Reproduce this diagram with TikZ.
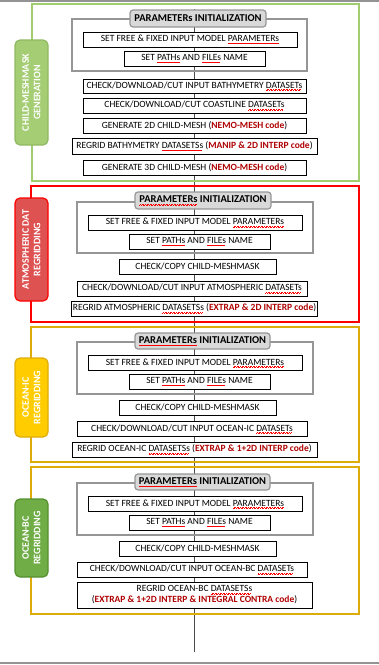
\documentclass[tikz,border=0pt]{standalone}
\usepackage{fontspec}
\setmainfont{Carlito}
\usetikzlibrary{backgrounds}
\definecolor{meshgreen}{RGB}{160,206,110}
\definecolor{meshtab}{RGB}{165,205,115}
\definecolor{atmred}{RGB}{255,0,0}
\definecolor{atmtab}{RGB}{222,82,82}
\definecolor{oceangold}{RGB}{222,172,10}
\definecolor{ictab}{RGB}{255,204,0}
\definecolor{bctab}{RGB}{112,173,71}
\definecolor{bcline}{RGB}{84,145,45}
\definecolor{codered}{RGB}{175,0,0}
\definecolor{grpgray}{RGB}{150,150,150}
\definecolor{initfill}{RGB}{217,217,217}
\newcommand{\code}[1]{(\textcolor{codered}{\bfseries #1})}
\newcommand{\spellmark}[1]{\setbox0\hbox{#1}\rlap{\textcolor{red}{\hbox to\wd0{\leaders\hbox{\rule[-2.4pt]{.8pt}{.45pt}\rule[-1.8pt]{.8pt}{.45pt}}\hfil}}}\box0\relax}

\begin{document}
\begin{tikzpicture}[x=1pt,y=-1pt,
  stepbox/.style={draw=black,line width=1pt,fill=white,inner sep=1pt,
    minimum height=15pt,font=\fontsize{9.5}{11}\selectfont},
  groupbox/.style={draw=grpgray,line width=1.2pt},
  initbox/.style={draw=grpgray,fill=initfill,line width=1.2pt,rounded corners=3pt,
    minimum width=136pt,minimum height=17pt,inner sep=1pt,font=\fontsize{10.5}{12}\selectfont\bfseries},
  frame/.style={line width=1.2pt,minimum width=328pt},
  sidetab/.style={rotate=90,line width=1.2pt,rounded corners=5pt,minimum height=33pt,
    inner sep=1pt,align=center,text=white,font=\fontsize{10}{11.5}\selectfont\bfseries},
  flow/.style={draw=black!70,line width=.8pt}]
\useasboundingbox (0,0) rectangle (379,665);
\draw[gray!85,line width=1.5pt] (0,1) -- (379,1) (0,663) -- (379,663);

% child-meshmask generation
\node[frame,draw=meshgreen,minimum width=327pt,minimum height=177pt] (frame1) at (195.5,92.5) {};
\node[sidetab,fill=meshtab,draw=meshgreen!90!black,minimum width=105pt] (tab1) at (31.5,92.5)
  {CHILD-MESHMASK\\GENERATION};
\node[groupbox,minimum width=235pt,minimum height=52pt] (grp1) at (189.5,45) {};
\node[initbox] (init1) at (198,18.5) {PARAMETERs INITIALIZATION};
\node[stepbox,minimum width=214pt] (setfree1) at (190,39.5) {SET FREE \& FIXED INPUT MODEL \spellmark{PARAMETERs}};
\node[stepbox,minimum width=141pt] (paths1) at (194.5,58.5) {SET \spellmark{PATHs} AND \spellmark{FILEs} NAME};
\node[stepbox,minimum width=223pt,minimum height=14pt] (bathy1) at (194.5,86) {CHECK/DOWNLOAD/CUT INPUT BATHYMETRY \spellmark{DATASETs}};
\node[stepbox,minimum width=223pt] (coast1) at (194.5,105.5) {CHECK/DOWNLOAD/CUT COASTLINE \spellmark{DATASETs}};
\node[stepbox,minimum width=223pt] (mesh2d) at (194.5,125.5) {GENERATE 2D CHILD-MESH \code{NEMO-MESH code}};
\node[stepbox,minimum width=245pt,minimum height=16pt] (regbathy) at (194.5,146) {REGRID BATHYMETRY \spellmark{DATASETSs} \code{MANIP \& 2D INTERP code}};
\node[stepbox,minimum width=223pt] (mesh3d) at (194.5,167.5) {GENERATE 3D CHILD-MESH \code{NEMO-MESH code}};

% atmospheric data regridding
\node[frame,draw=atmred,minimum height=136pt] (frame2) at (195,254) {};
\node[sidetab,fill=atmtab,draw=atmred,minimum width=103pt] (tab2) at (31.5,249.5)
  {ATMOSPHERIC DAT\\REGRIDDING};
\node[groupbox,minimum width=236pt,minimum height=51pt] (grp2) at (195,227.5) {};
\node[initbox] (init2) at (203,200.5) {\spellmark{PARAMETERs} INITIALIZATION};
\node[stepbox,minimum width=214pt] (setfree2) at (195,222.5) {SET FREE \& FIXED INPUT MODEL \spellmark{PARAMETERs}};
\node[stepbox,minimum width=141pt] (paths2) at (199.5,241.5) {SET \spellmark{PATHs} AND \spellmark{FILEs} NAME};
\node[stepbox,minimum width=157pt] (copy2) at (197.5,266.5) {CHECK/COPY CHILD-MESHMASK};
\node[stepbox,minimum width=230pt] (atm2) at (192,288.5) {CHECK/DOWNLOAD/CUT INPUT ATMOSPHERIC \spellmark{DATASETs}};
\node[stepbox,minimum width=245pt] (regatm) at (194.5,308.5) {REGRID ATMOSPHERIC \spellmark{DATASETSs} \code{EXTRAP \& 2D INTERP code}};

% ocean initial conditions
\node[frame,draw=oceangold,minimum height=135pt] (frame3) at (195,394.5) {};
\node[sidetab,fill=ictab,draw=oceangold,minimum width=79pt] (tab3) at (31.5,397.5)
  {OCEAN-IC\\REGRIDDING};
\node[groupbox,minimum width=236pt,minimum height=52pt] (grp3) at (195,368) {};
\node[initbox,minimum width=135pt,minimum height=16pt] (init3) at (202.5,341) {\spellmark{PARAMETERs} INITIALIZATION};
\node[stepbox,minimum width=214pt] (setfree3) at (195,363) {SET FREE \& FIXED INPUT MODEL \spellmark{PARAMETERs}};
\node[stepbox,minimum width=141pt] (paths3) at (199.5,381.5) {SET \spellmark{PATHs} AND \spellmark{FILEs} NAME};
\node[stepbox,minimum width=157pt] (copy3) at (197.5,407.5) {CHECK/COPY CHILD-MESHMASK};
\node[stepbox,minimum width=230pt] (ic3) at (192,429) {CHECK/DOWNLOAD/CUT INPUT OCEAN-IC \spellmark{DATASETs}};
\node[stepbox,minimum width=245pt] (regic) at (194.5,449.5) {REGRID OCEAN-IC \spellmark{DATASETSs} \code{EXTRAP \& 1+2D INTERP code}};

% ocean boundary conditions
\node[frame,draw=oceangold,minimum height=147pt] (frame4) at (195,540.5) {};
\node[sidetab,fill=bctab,draw=bcline,minimum width=78pt] (tab4) at (31.5,538)
  {OCEAN-BC\\REGRIDDING};
\node[groupbox,minimum width=236pt,minimum height=52pt] (grp4) at (195,509) {};
\node[initbox,minimum width=135pt,minimum height=16pt] (init4) at (202.5,482) {\spellmark{PARAMETERs} INITIALIZATION};
\node[stepbox,minimum width=214pt] (setfree4) at (195,504) {SET FREE \& FIXED INPUT MODEL \spellmark{PARAMETERs}};
\node[stepbox,minimum width=141pt] (paths4) at (199.5,522.5) {SET \spellmark{PATHs} AND \spellmark{FILEs} NAME};
\node[stepbox,minimum width=157pt] (copy4) at (197.5,548.5) {CHECK/COPY CHILD-MESHMASK};
\node[stepbox,minimum width=230pt] (bc4) at (192,569.5) {CHECK/DOWNLOAD/CUT INPUT OCEAN-BC \spellmark{DATASETs}};
\node[stepbox,minimum width=235pt,minimum height=26pt,align=center] (regbc) at (194.5,595)
  {REGRID OCEAN-BC \spellmark{DATASETSs}\\\code{EXTRAP \& 1+2D INTERP \& INTEGRAL CONTRA code}};

% main flow line, behind the boxes
\coordinate (tail) at (194,652);
\begin{scope}[on background layer]
  \draw[flow] (init1.north -| tail) -- (tail);
\end{scope}
\end{tikzpicture}
\end{document}
